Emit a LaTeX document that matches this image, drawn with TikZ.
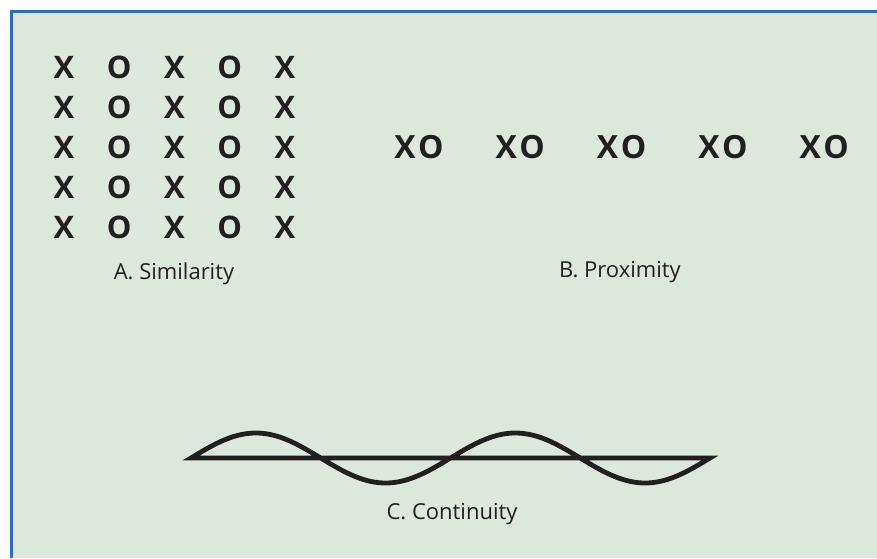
\documentclass[tikz,border=0pt]{standalone}
\usepackage{fontspec}
\setmainfont{Open Sans}
\definecolor{panelbg}{HTML}{DDE8DD}
\definecolor{panelrule}{HTML}{2F6DB5}
\definecolor{ink}{HTML}{231F20}
\begin{document}
\begin{tikzpicture}[x=1pt, y=-1pt,
  letter/.style={font=\fontsize{31}{31}\selectfont\bfseries, text=ink, inner sep=0pt},
  pair/.style={letter, font=\fontsize{32}{32}\selectfont\bfseries},
  caption/.style={font=\fontsize{22}{22}\selectfont, text=ink, inner sep=0pt, anchor=base},
  wave/.style={draw=ink, line width=4.8pt, line join=miter}]
  \useasboundingbox (0,0) rectangle (877,558);
  \fill[panelbg] (11,11) rectangle (877,558);
  \draw[panelrule, line width=3pt] (11,558) -- (11,11) -- (877,11);
  \foreach \r in {1,...,5}
    \foreach \c/\ch in {1/X,2/O,3/X,4/O,5/X}
      \node[letter] (sim-\r-\c) at ({64+55.25*(\c-1)},{67+40.2*(\r-1)}) {\ch};
  \node[caption] (simlabel) at (174,279) {A. Similarity};
  \foreach \i in {1,...,5}
    \node[pair] (prox-\i) at ({419+101.3*(\i-1)},147) {X\kern2.5pt O};
  \node[caption] (proxlabel) at (620,277) {B. Proximity};
  \coordinate (wl) at (191,458);
  \coordinate (wr) at (710,458);
  \draw[wave] plot[domain=0:720, samples=145] ({191+0.72083*\x},{458-25*sin(\x)}) -- cycle;
  \node[caption] (contlabel) at (452,519) {C. Continuity};
\end{tikzpicture}
\end{document}
